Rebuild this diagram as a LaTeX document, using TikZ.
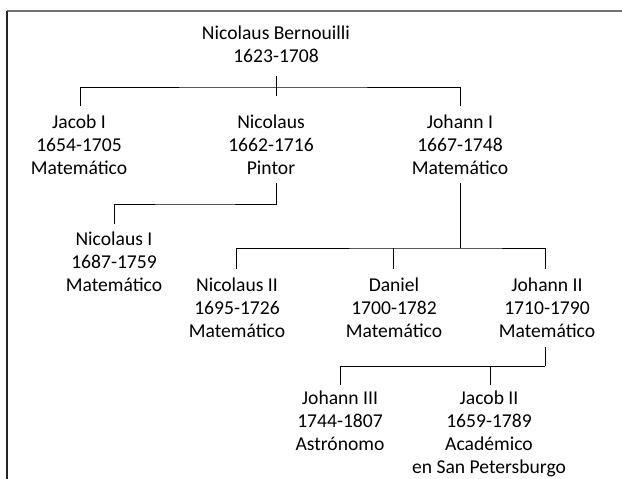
\documentclass[tikz,border=0pt]{standalone}
\usepackage{fontspec}
\setmainfont{Carlito}
\begin{document}
\begin{tikzpicture}[x=1pt,y=-1pt,
  person/.style={anchor=north,inner sep=0pt,align=center,font=\fontsize{19.6}{23}\selectfont},
  link/.style={draw=black,line width=1pt}]
\useasboundingbox (0,0) rectangle (622,479);
% frame
\draw[draw=black!55,line width=1.3pt] (7,11) -- (622,11);
\draw[draw=black!85,line width=1.3pt] (7,11) -- (7,479);
% people (north = first baseline - 16.1)
\node[person] (nb) at (276,23.5) {\strut Nicolaus Bernouilli\\1623-1708};
\node[person] (jacob1) at (79,112) {\strut Jacob I\\1654-1705\\Matemático};
\node[person] (nic) at (271,112) {\strut Nicolaus\\1662-1716\\Pintor};
\node[person] (joh1) at (460,112) {\strut Johann I\\1667-1748\\Matemático};
\node[person] (nic1) at (114,229) {\strut Nicolaus I\\1687-1759\\Matemático};
\node[person] (nic2) at (237,275) {\strut Nicolaus II\\1695-1726\\Matemático};
\node[person] (dan) at (394,275) {\strut Daniel\\1700-1782\\Matemático};
\node[person] (joh2) at (547,275) {\strut Johann II\\1710-1790\\Matemático};
\node[person] (joh3) at (340,388.5) {\strut Johann III\\1744-1807\\Astrónomo};
\node[person] (jac2) at (489,388.5) {\strut Jacob II\\1659-1789\\Académico\\en San Petersburgo};
% level 0 -> 1
\coordinate (t0) at (276,76);
\coordinate (t1) at (276,96);
\coordinate (h0) at (276,87);
\coordinate (a1) at (80,106);
\coordinate (a3) at (460,106);
\draw[link] (t0) -- (t1);
\draw[link] (a1) |- (h0) -| (a3);
% Nicolaus -> Nicolaus I
\coordinate (p0) at (276,183);
\coordinate (p1) at (114,224);
\draw[link] (p0) |- (195,204) -| (p1);
% Johann I -> children
\coordinate (j0) at (460,183);
\coordinate (jh) at (460,248);
\coordinate (c1) at (236,269);
\coordinate (c2) at (393,269);
\coordinate (c3) at (545,269);
\draw[link] (j0) -- (jh);
\draw[link] (c1) |- (jh) -| (c3);
\draw[link] (c2) -- (393,248);
% Johann II -> children
\coordinate (k0) at (545,347);
\coordinate (kh) at (545,366);
\coordinate (d1) at (340,385);
\coordinate (d2) at (490,385);
\draw[link] (k0) -- (kh);
\draw[link] (d1) |- (kh);
\draw[link] (d2) -- (490,366);
\end{tikzpicture}
\end{document}
